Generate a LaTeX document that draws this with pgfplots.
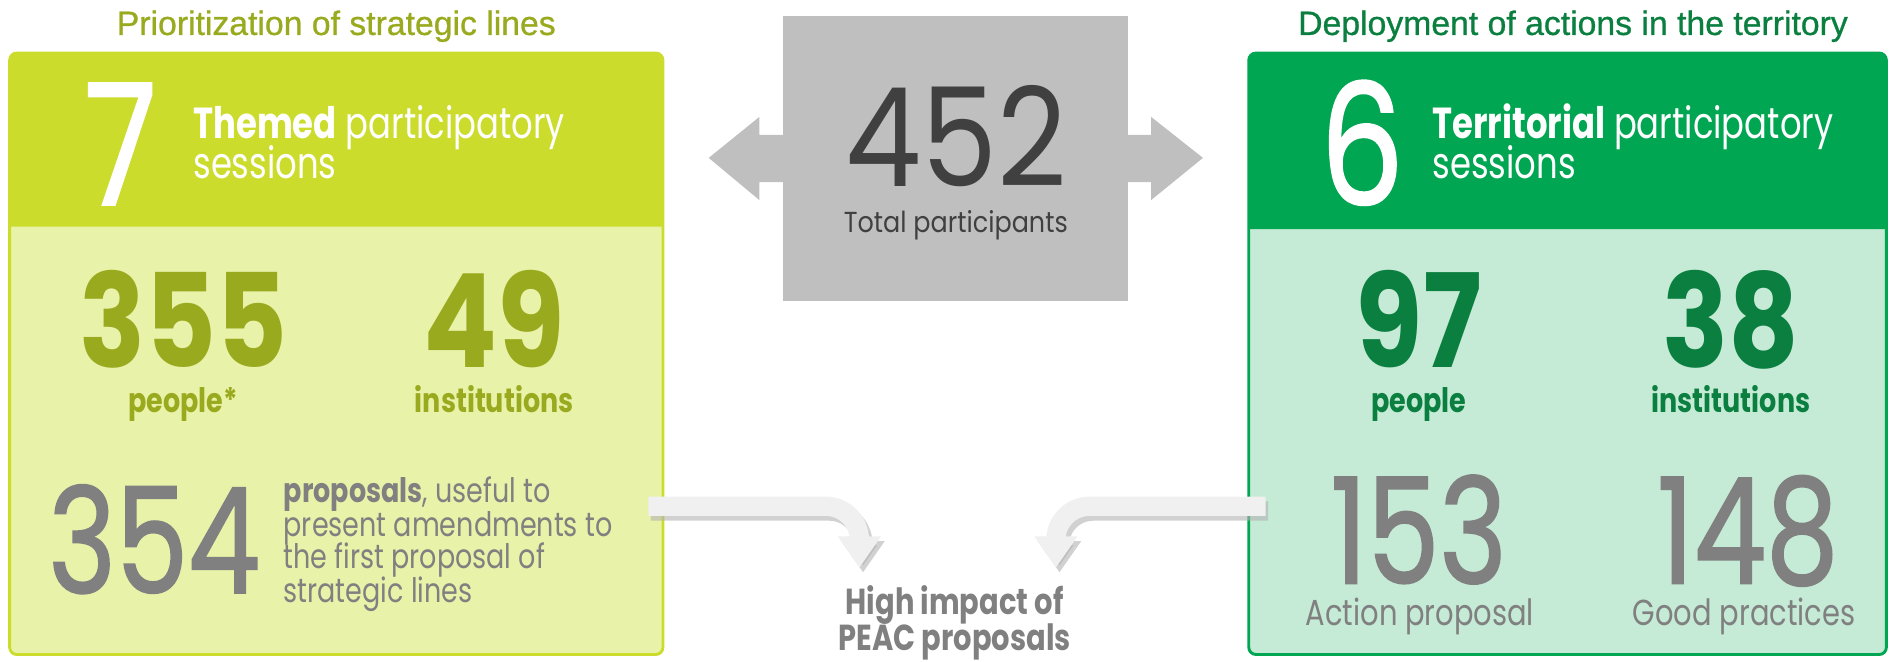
\documentclass[border=0pt]{standalone}
\usepackage{pgfplots}
\pgfplotsset{compat=1.18}
\usepackage{fontspec}
\setmainfont{Liberation Sans}
\newfontfamily\pop[FakeStretch=0.78]{Poppins}
\newfontfamily\popb[FakeStretch=0.84]{Poppins}
\newfontfamily\popg[FakeStretch=0.78,FakeBold=1.2]{Poppins}
\newfontfamily\popt[FakeStretch=0.8]{Poppins}
\newfontfamily\popn[FakeStretch=0.88]{Poppins}
\newfontfamily\ttl[FakeBold=0.8]{Liberation Sans}
\usetikzlibrary{arrows.meta}
\definecolor{lime}{HTML}{CCDC2C}
\definecolor{limelight}{HTML}{E9F2A9}
\definecolor{olive}{HTML}{9AAA1F}
\definecolor{grn}{HTML}{00A651}
\definecolor{grnlight}{HTML}{C5EAD6}
\definecolor{grndark}{HTML}{0A7F3F}
\definecolor{numgray}{HTML}{808080}
\definecolor{boxgray}{HTML}{BFBFBF}
\definecolor{darkgray}{HTML}{404040}
\definecolor{arrowgray}{HTML}{F0F0F0}
\newcommand{\fs}[1]{\fontsize{#1}{#1}\selectfont}
\begin{document}
\begin{tikzpicture}[every node/.append style={inner sep=0pt}]
\begin{axis}[width=784pt,height=274.5pt,scale only axis,
  xmin=0,xmax=1568,ymin=0,ymax=549,y dir=reverse,hide axis,clip=false]
\path (0,0) rectangle (1568,549);
% left panel
\draw[fill=limelight,draw=lime,line width=1.2pt,rounded corners=3pt] (8,44) rectangle (550,543);
\fill[lime,rounded corners=3pt] (8,188) -- (8,44) -- (550,44) [sharp corners] -- (550,188) -- cycle;
% right panel
\draw[fill=grnlight,draw=grn,line width=1.2pt,rounded corners=3pt] (1036,44) rectangle (1565,543);
\fill[grn,rounded corners=3pt] (1036,190) -- (1036,44) -- (1565,44) [sharp corners] -- (1565,190) -- cycle;
% centre double arrow and box
\fill[boxgray] (588,131) -- (630,97) -- (630,112) -- (955,112) -- (955,97) -- (998,131)
  -- (955,166) -- (955,151) -- (630,151) -- (630,166) -- cycle;
\fill[boxgray] (650,13) rectangle (936,250);
% curved arrows with shadow
\draw[line width=8pt,color=black!30,opacity=0.6,rounded corners=14pt,
  -{Triangle[width=17pt,length=13pt]}] (540,424) -- (716,424) -- (716,475);
\draw[line width=8pt,color=arrowgray,rounded corners=14pt,
  -{Triangle[width=17pt,length=13pt]}] (538,420) -- (713,420) -- (713,471);
\draw[line width=8pt,color=black!30,opacity=0.6,rounded corners=14pt,
  -{Triangle[width=17pt,length=13pt]}] (1052,424) -- (879,424) -- (879,475);
\draw[line width=8pt,color=arrowgray,rounded corners=14pt,
  -{Triangle[width=17pt,length=13pt]}] (1050,420) -- (876,420) -- (876,471);
% titles
\node[anchor=base,text=olive,font=\ttl\fs{14}] at (279,29) {Prioritization of strategic lines};
\node[anchor=base,text=grndark,font=\ttl\fs{14}] at (1305,29) {Deployment of actions in the territory};
% big session numbers
\addplot[draw=none,point meta=explicit symbolic,nodes near coords,
  every node near coord/.append style={anchor=base,text=white,font=\popg\fs{70}}]
  coordinates {(100,170) [7] (1130,170) [6]};
\node[anchor=base west,text=white,font=\pop\fs{18}] at (160,115) {\textbf{Themed} participatory};
\node[anchor=base west,text=white,font=\pop\fs{18}] at (160,148) {sessions};
\node[anchor=base west,text=white,font=\pop\fs{18}] at (1188,115) {\textbf{Territorial} participatory};
\node[anchor=base west,text=white,font=\pop\fs{18}] at (1188,148) {sessions};
% people / institutions
\addplot[draw=none,point meta=explicit symbolic,nodes near coords,
  every node near coord/.append style={anchor=base,text=olive,font=\popb\bfseries\fs{54}}]
  coordinates {(152,305) [355] (410,305) [49]};
\addplot[draw=none,point meta=explicit symbolic,nodes near coords,
  every node near coord/.append style={anchor=base,text=grndark,font=\popb\bfseries\fs{54}}]
  coordinates {(1177,305) [97] (1436,305) [38]};
\node[anchor=base,text=olive,font=\popt\bfseries\fs{14}] at (152,342) {people*};
\node[anchor=base,text=olive,font=\popt\bfseries\fs{14}] at (410,342) {institutions};
\node[anchor=base,text=grndark,font=\popt\bfseries\fs{14}] at (1177,342) {people};
\node[anchor=base,text=grndark,font=\popt\bfseries\fs{14}] at (1436,342) {institutions};
% proposals
\addplot[draw=none,point meta=explicit symbolic,nodes near coords,
  every node near coord/.append style={anchor=base,text=numgray,font=\popg\fs{61}}]
  coordinates {(128,492) [354] (1177,484) [153] (1450,484) [148]};
\node[anchor=base west,text=numgray,font=\popt\fs{14}] at (235,417) {\textbf{proposals}, useful to};
\node[anchor=base west,text=numgray,font=\popt\fs{14}] at (235,445) {present amendments to};
\node[anchor=base west,text=numgray,font=\popt\fs{14}] at (235,472) {the first proposal of};
\node[anchor=base west,text=numgray,font=\popt\fs{14}] at (235,500) {strategic lines};
\node[anchor=base,text=numgray,font=\popt\fs{15}] at (1178,519) {Action proposal};
\node[anchor=base,text=numgray,font=\popt\fs{15}] at (1447,519) {Good practices};
\node[anchor=base,text=numgray,font=\popt\bfseries\fs{15}] at (792,510) {High impact of};
\node[anchor=base,text=numgray,font=\popt\bfseries\fs{15}] at (792,540) {PEAC proposals};
% total
\addplot[draw=none,point meta=explicit symbolic,nodes near coords,
  every node near coord/.append style={anchor=base,text=darkgray,font=\popn\fs{57}}]
  coordinates {(793,155) [452]};
\node[anchor=base,text=darkgray,font=\popn\fs{12}] at (793,193) {Total participants};
\end{axis}
\end{tikzpicture}
\end{document}
